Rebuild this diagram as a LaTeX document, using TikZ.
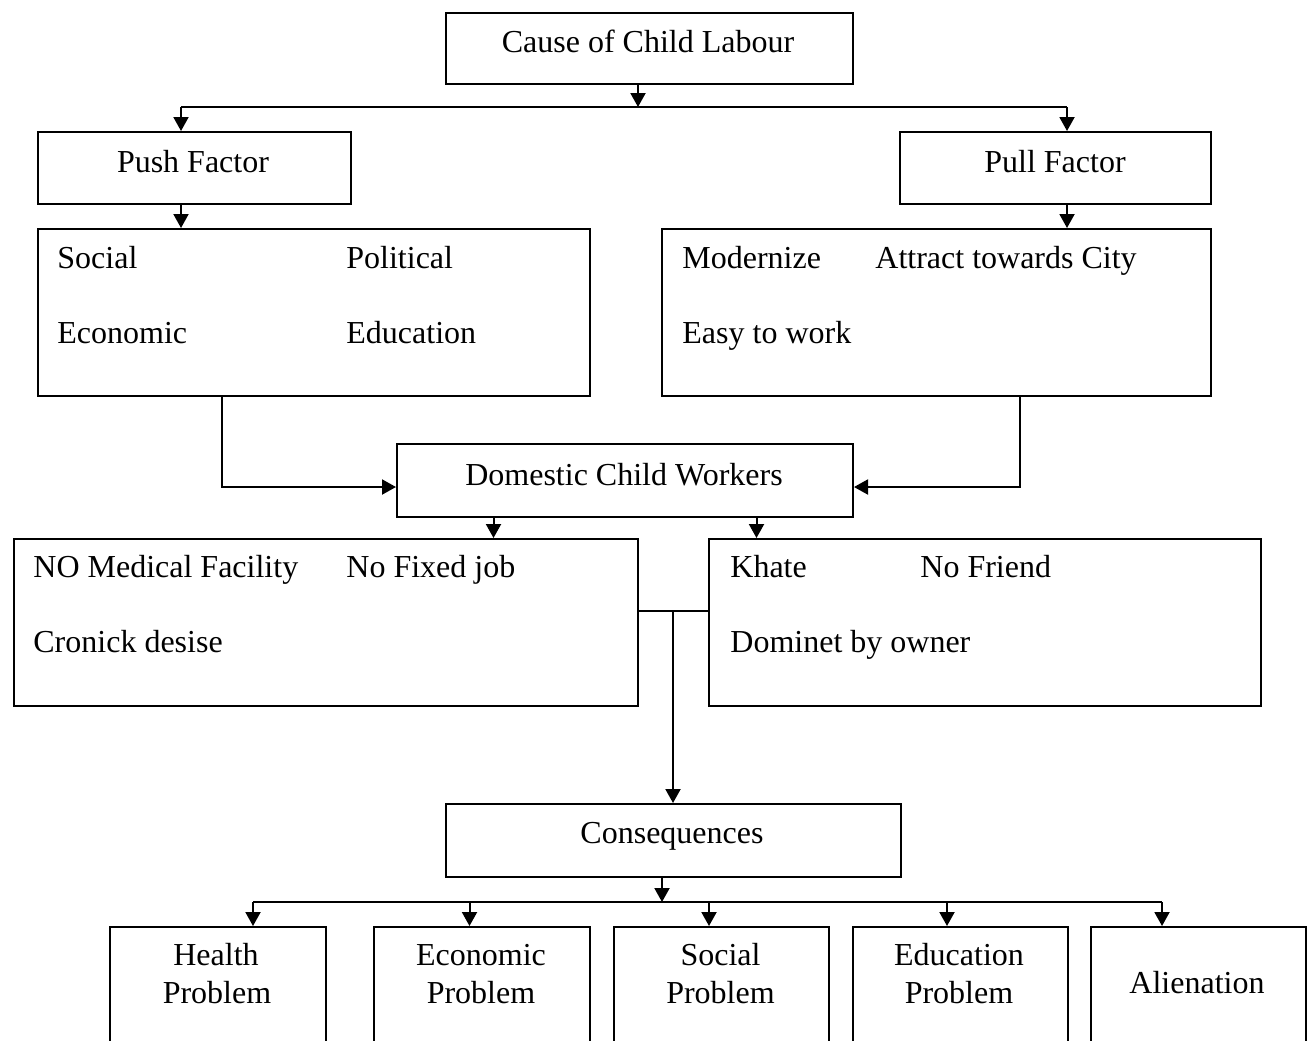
\documentclass[tikz,border=0pt]{standalone}
\usepackage{fontspec}
\setmainfont{Liberation Serif}
\usetikzlibrary{arrows.meta}
\begin{document}
\begin{tikzpicture}[x=0.5pt,y=-0.5pt,
  box/.style={draw, line width=1pt, inner sep=0pt, anchor=north west},
  lbl/.style={inner sep=0pt, font=\fontsize{16pt}{19pt}\selectfont, anchor=base},
  lbll/.style={lbl, anchor=base west},
  conn/.style={line width=1pt},
  arr/.style={conn, -{Triangle[length=7pt,width=7.5pt]}}]
\useasboundingbox (0,0) rectangle (1315,1040);
\clip (0,0) rectangle (1315,1040);

% boxes
\node[box, minimum width=203.5pt, minimum height=35.5pt] (cause) at (445,12) {};
\node[box, minimum width=156.5pt, minimum height=36pt] (push) at (37,131) {};
\node[box, minimum width=155.5pt, minimum height=36pt] (pull) at (899,131) {};
\node[box, minimum width=276pt, minimum height=83.5pt] (pushitems) at (37,228) {};
\node[box, minimum width=274.5pt, minimum height=83.5pt] (pullitems) at (661,228) {};
\node[box, minimum width=228pt, minimum height=36.5pt] (domestic) at (396,443) {};
\node[box, minimum width=312pt, minimum height=83.5pt] (leftbox) at (13,538) {};
\node[box, minimum width=276pt, minimum height=83.5pt] (rightbox) at (708,538) {};
\node[box, minimum width=227.5pt, minimum height=36.5pt] (conseq) at (445,803) {};
\node[box, minimum width=108pt, minimum height=65pt] (health) at (109,926) {};
\node[box, minimum width=108pt, minimum height=65pt] (econ) at (373,926) {};
\node[box, minimum width=107.5pt, minimum height=65pt] (social) at (613,926) {};
\node[box, minimum width=107.5pt, minimum height=65pt] (educ) at (852,926) {};
\node[box, minimum width=107.5pt, minimum height=65pt] (alien) at (1090,926) {};

% texts
\node[lbl] (tcause) at (648,52) {Cause of Child Labour};
\node[lbl] (tpush) at (193,172) {Push Factor};
\node[lbl] (tpull) at (1055,172) {Pull Factor};
\node[lbll] (tsocial) at (57,268) {Social};
\node[lbll] (tpolit) at (346,268) {Political};
\node[lbll] (tecon) at (57,343) {Economic};
\node[lbll] (teduc) at (346,343) {Education};
\node[lbll] (tmodern) at (682,268) {Modernize};
\node[lbll] (tattract) at (875,268) {Attract towards City};
\node[lbll] (teasy) at (682,343) {Easy to work};
\node[lbl] (tdom) at (624,485) {Domestic Child Workers};
\node[lbll] (tmed) at (33,577) {NO Medical Facility};
\node[lbll] (tjob) at (346,577) {No Fixed job};
\node[lbll] (tcron) at (33,652) {Cronick desise};
\node[lbll] (tkhate) at (730,577) {Khate};
\node[lbll] (tfriend) at (920,577) {No Friend};
\node[lbll] (tdomin) at (730,652) {Dominet by owner};
\node[lbl] (tcons) at (672,843) {Consequences};
\node[lbl] (th1) at (216,965) {Health};
\node[lbl] (th2) at (217,1003) {Problem};
\node[lbl] (te1) at (481,965) {Economic};
\node[lbl] (te2) at (481,1003) {Problem};
\node[lbl] (ts1) at (720.5,965) {Social};
\node[lbl] (ts2) at (720.5,1003) {Problem};
\node[lbl] (td1) at (959,965) {Education};
\node[lbl] (td2) at (959,1003) {Problem};
\node[lbl] (tal) at (1197,993) {Alienation};

% connectors
\coordinate (jc) at (638,107);
\coordinate (jl) at (181,107);
\coordinate (jr) at (1067,107);
\draw[arr] (cause.south -| jc) -- (jc);
\draw[conn] (jl) -- (jr);
\draw[arr] (jl) -- (push.north -| jl);
\draw[arr] (jr) -- (pull.north -| jr);
\draw[arr] (push.south -| jl) -- (pushitems.north -| jl);
\draw[arr] (pull.south -| jr) -- (pullitems.north -| jr);

\coordinate (dl) at (222,487);
\coordinate (dr) at (1020,487);
\draw[arr] (pushitems.south -| dl) -- (dl) -- (domestic.west |- dl);
\draw[arr] (pullitems.south -| dr) -- (dr) -- (domestic.east |- dr);

\coordinate (da) at (493.5,516);
\coordinate (db) at (756.5,516);
\draw[arr] (domestic.south -| da) -- (leftbox.north -| da);
\draw[arr] (domestic.south -| db) -- (rightbox.north -| db);

\coordinate (m) at (673,611);
\draw[conn] (leftbox.east |- m) -- (rightbox.west |- m);
\draw[arr] (m) -- (conseq.north -| m);

\coordinate (cb) at (662,902);
\coordinate (b1) at (253,902);
\coordinate (b2) at (469.5,902);
\coordinate (b3) at (709,902);
\coordinate (b4) at (947,902);
\coordinate (b5) at (1162,902);
\draw[arr] (conseq.south -| cb) -- (cb);
\draw[conn] (b1) -- (b5);
\draw[arr] (b1) -- (health.north -| b1);
\draw[arr] (b2) -- (econ.north -| b2);
\draw[arr] (b3) -- (social.north -| b3);
\draw[arr] (b4) -- (educ.north -| b4);
\draw[arr] (b5) -- (alien.north -| b5);
\end{tikzpicture}
\end{document}
